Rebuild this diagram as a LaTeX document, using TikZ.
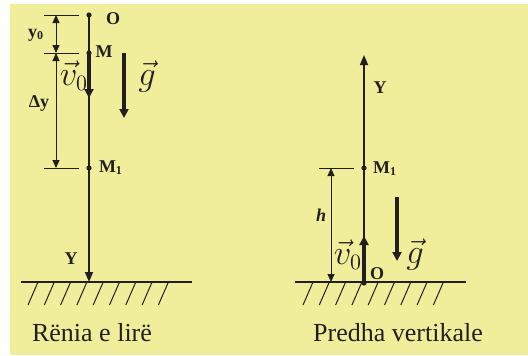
\documentclass[tikz,border=0pt]{standalone}
\usepackage{fontspec}
\setmainfont{Liberation Serif}
\usepackage{amsmath}
\usepackage{xcolor}
\usetikzlibrary{arrows.meta,positioning}

\definecolor{paper}{HTML}{F0EE9A}
\definecolor{ink}{HTML}{231F20}

\begin{document}
\begin{tikzpicture}[
    x=0.5pt, y=-0.5pt,
    axis/.style={draw=ink, line width=0.75pt, -{Triangle[length=5pt,width=4pt]}},
    thickvec/.style={draw=ink, line width=2pt, -{Triangle[length=4.5pt,width=4.5pt]}},
    dimline/.style={draw=ink, line width=0.5pt, {Triangle[length=4pt,width=3.5pt]}-{Triangle[length=4pt,width=3.5pt]}},
    tick/.style={draw=ink, line width=0.5pt},
    ground/.style={draw=ink, line width=0.6pt},
    hatch/.style={draw=ink, line width=0.5pt},
    dot/.style={circle, fill=ink, inner sep=0pt, minimum size=2.6pt},
    pointlabel/.style={text=ink, font=\fontsize{9}{10}\selectfont\bfseries, inner sep=0pt},
    veclabel/.style={text=ink, font=\fontsize{16}{18}\selectfont, inner sep=0pt},
    caption/.style={text=ink, font=\fontsize{13}{15}\selectfont, inner sep=0pt}
]

% Background
\useasboundingbox (0,0) rectangle (528,355);
\fill[paper] (10,4) rectangle (528,355);

% Free fall (left)
\node[dot] (lO) at (89,15) {};
\node[dot] (lM) at (89,53) {};
\node[dot] (lMone) at (89,168) {};
\coordinate (lY) at (89,282);
\coordinate (lV) at (89,98);
\coordinate (lgTop) at (124,53);
\coordinate (lgBot) at (124,118);

\draw[axis] (lO.center) -- (lY);
\draw[thickvec] (lM.center) -- (lV);
\draw[thickvec] (lgTop) -- (lgBot);

\node[pointlabel] (lOlab) at (113,19) {O};
\node[pointlabel] (lMlab) at (104,52) {M};
\node[pointlabel] (lMonelab) at (111,168) {M$_{\mathbf{1}}$};
\node[pointlabel] (lYlab) at (71,259) {Y};
\node[veclabel] (lVlab) at (74,76) {$\vec{v}_0$};
\node[veclabel] (lglab) at (147,77) {$\vec{g}$};

% Dimensions (left)
\coordinate (ltA1) at (44,15);  \coordinate (ltA2) at (79,15);
\coordinate (ltB1) at (44,53);  \coordinate (ltB2) at (79,53);
\coordinate (ltC1) at (44,168); \coordinate (ltC2) at (79,168);
\coordinate (ldA) at (56,15);
\coordinate (ldB) at (56,53);
\coordinate (ldC) at (56,168);
\draw[tick] (ltA1) -- (ltA2);
\draw[tick] (ltB1) -- (ltB2);
\draw[tick] (ltC1) -- (ltC2);
\draw[dimline] (ldA) -- (ldB);
\draw[dimline] (ldB) -- (ldC);
\node[pointlabel] (ly0lab) at (36,35) {y$_{\mathbf{0}}$};
\node[pointlabel] (ldylab) at (39,103) {Δy};

% Ground (left)
\coordinate (lgA) at (21,282);
\coordinate (lgB) at (192,282);
\draw[ground] (lgA) -- (lgB);
\foreach \i in {0,...,8}
    \draw[hatch] ({38+16.3*\i},282) -- ++(-10,23);

\node[caption] (lcap) at (92,333) {Rënia e lirë};

% Vertical projectile (right)
\node[dot] (rO) at (364,283) {};
\node[dot] (rMone) at (364,168) {};
\coordinate (rY) at (364,55);
\coordinate (rV) at (364,236);
\coordinate (rgTop) at (397,197);
\coordinate (rgBot) at (397,261);

\draw[axis] (rO.center) -- (rY);
\draw[thickvec] (rO.center) -- (rV);
\draw[thickvec] (rgTop) -- (rgBot);

\node[pointlabel] (rYlab) at (380,88) {Y};
\node[pointlabel] (rMonelab) at (385,169) {M$_{\mathbf{1}}$};
\node[pointlabel] (rOlab) at (377,274) {O};
\node[veclabel] (rVlab) at (348,255) {$\vec{v}_0$};
\node[veclabel] (rglab) at (415,255) {$\vec{g}$};

% Dimension (right)
\coordinate (rtA1) at (319,168); \coordinate (rtA2) at (354,168);
\coordinate (rdA) at (331,168);
\coordinate (rdB) at (331,282);
\draw[tick] (rtA1) -- (rtA2);
\draw[dimline] (rdA) -- (rdB);
\node[pointlabel, font=\fontsize{9}{10}\selectfont\bfseries\itshape] (rhlab) at (321,215) {h};

% Ground (right)
\coordinate (rgA) at (295,282);
\coordinate (rgB) at (466,282);
\draw[ground] (rgA) -- (rgB);
\foreach \i in {0,...,8}
    \draw[hatch] ({313+16.3*\i},282) -- ++(-10,23);

\node[caption] (rcap) at (398,333) {Predha vertikale};

\end{tikzpicture}
\end{document}
